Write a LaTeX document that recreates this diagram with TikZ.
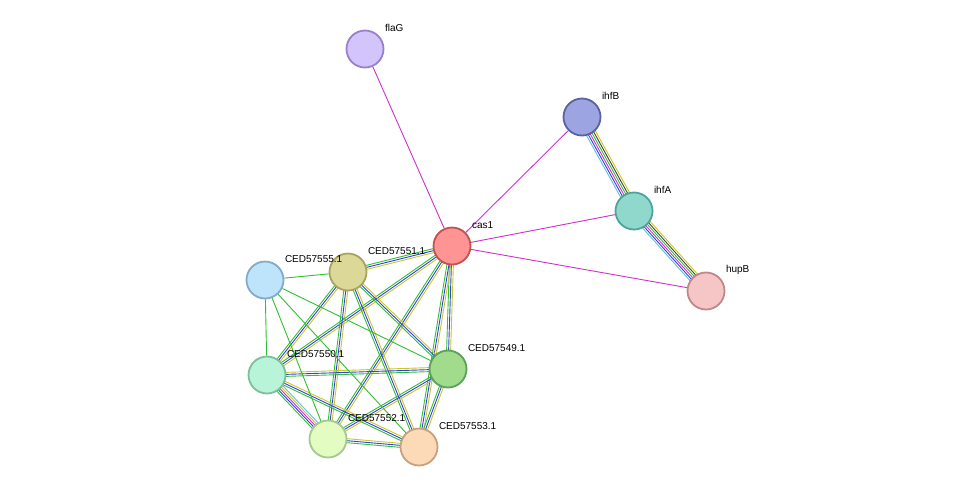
\documentclass[tikz,border=0pt]{standalone}
\usepackage{fontspec}
\setmainfont{Liberation Sans}
\usetikzlibrary{calc,backgrounds}
\definecolor{mg}{HTML}{D030D0}
\definecolor{gr}{HTML}{30C030}
\definecolor{bl}{HTML}{3040E0}
\definecolor{ye}{HTML}{C8C820}
\definecolor{lb}{HTML}{60C0E0}
\definecolor{bk}{HTML}{404040}
\tikzset{
 prot/.style n args={3}{circle,minimum size=37pt,inner sep=0pt,line width=1.8pt,
   /utils/exec={\definecolor{pf}{HTML}{#1}\definecolor{pd}{HTML}{#2}},fill=pf,draw=pd,
   label={[anchor=west,font=\fontsize{10}{11}\selectfont,inner sep=0pt,yshift=11pt,xshift=-1pt]30:{\hspace*{4pt}#3}}},
 ed/.style={line width=0.9pt}
}
\newcommand\bund[3]{\foreach \c/\o in {#3}{\draw[ed,\c] ($(#1.center)!\o!90:(#2.center)$) -- ($(#2.center)!\o!-90:(#1.center)$);}}
\begin{document}
\begin{tikzpicture}[x=1pt,y=-1pt]
\useasboundingbox (0,0) rectangle (975,493);
\node[prot={D4C4FC}{9A80CC}{flaG}] (flaG) at (365,49) {};
\node[prot={9CA4E2}{5A62A2}{ihfB}] (ihfB) at (582,117) {};
\node[prot={90D8CC}{4EA49A}{ihfA}] (ihfA) at (634,211) {};
\node[prot={F6C6C6}{C08888}{hupB}] (hupB) at (706,291) {};
\node[prot={FF9494}{C25252}{cas1}] (cas1) at (452,246) {};
\node[prot={DCD898}{A8A460}{CED57551.1}] (n51) at (348,272) {};
\node[prot={BEE4FC}{84AACA}{CED57555.1}] (n55) at (265,280) {};
\node[prot={B8F4D8}{7EBE9E}{CED57550.1}] (n50) at (267,375) {};
\node[prot={A0DC8C}{5CA05C}{CED57549.1}] (n49) at (448,369) {};
\node[prot={E2FCC2}{A6C890}{CED57552.1}] (n52) at (328,439) {};
\node[prot={FCDAB8}{C8A080}{CED57553.1}] (n53) at (419,447) {};
\begin{scope}[on background layer]
\draw[ed,mg] (flaG) -- (cas1);
\draw[ed,mg] (ihfB) -- (cas1);
\draw[ed,mg] (ihfA) -- (cas1);
\draw[ed,mg] (hupB) -- (cas1);
\bund{ihfB}{ihfA}{lb/-5pt,bl/-3pt,mg/-1pt,gr/1pt,bk/3pt,ye/5pt}
\bund{ihfA}{hupB}{lb/-5pt,bl/-3pt,mg/-1pt,gr/1pt,bk/3pt,ye/5pt}
\foreach \a/\b in {cas1/n51,cas1/n50,cas1/n49,cas1/n52,cas1/n53,n51/n50,n51/n49,n51/n52,n51/n53,n50/n49,n50/n53,n49/n52,n49/n53,n52/n53}{
 \bund{\a}{\b}{gr/-2pt,bl/0pt,ye/2pt}}
\bund{n50}{n52}{gr/-4pt,bl/-2pt,mg/0pt,ye/2pt,lb/4pt}
\foreach \b in {n51,n50,n49,n52,n53}{\draw[ed,gr] (n55) -- (\b);}
\end{scope}
\end{tikzpicture}
\end{document}
